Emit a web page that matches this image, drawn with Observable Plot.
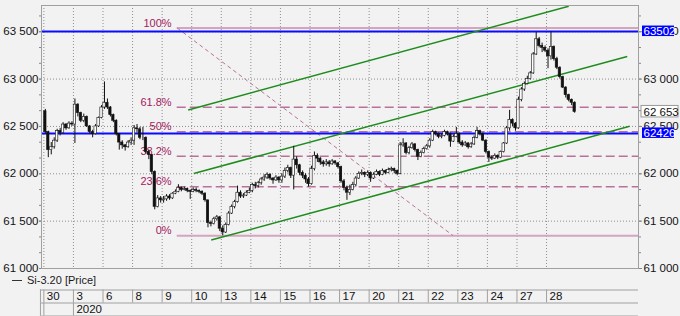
<!DOCTYPE html>
<html><head><meta charset="utf-8">
<script src="https://cdn.jsdelivr.net/npm/d3@7"></script>
<script src="https://cdn.jsdelivr.net/npm/@observablehq/plot@0.6"></script>
<style>
html,body{margin:0;padding:0;background:#f2f2f2;}
body{width:680px;height:316px;overflow:hidden;font-family:"Liberation Sans",Arial,sans-serif;}
svg{display:block;}
#legend{height:17px;line-height:17px;font-size:11px;color:#1a1a1a;position:relative;}
#legend .dash{position:absolute;left:12px;top:8px;width:10px;height:1px;background:#333;}
#legend .txt{position:absolute;left:27px;top:0;}
</style></head><body>
<div id="chart"></div>
<div id="legend"><span class="dash"></span><span class="txt">Si-3.20 [Price]</span></div>
<div id="table"></div>
<script>
// ---- data ----
const dayLabels = ["30","3","6","8","9","10","13","14","15","16","17","20","21","22","23","24","27","28"];
const yearLabel = "2020";
const barsPerDay = 10;
const firstOpen = 62660;
const close = [
 62440,62250,62280,62350,62450,62430,62520,62480,62530,62520,
 62730,62640,62560,62600,62500,62440,62420,62500,62590,62700,
 62750,62700,62620,62560,62420,62330,62300,62280,62330,62350,
 62480,62470,62380,62380,62230,62200,62020,61650,61740,61720,
 61730,61760,61740,61790,61810,61850,61830,61840,61820,61810,
 61830,61820,61810,61790,61720,61480,61470,61520,61540,61420,
 61380,61460,61580,61650,61700,61800,61760,61770,61800,61820,
 61880,61870,61900,61940,61960,61990,61950,61930,61960,61930,
 61970,62030,62060,61980,62150,62090,62010,61980,61940,61890,
 62050,62190,62160,62120,62100,62120,62100,62130,62110,62070,
 61920,61850,61800,61830,61880,61950,62000,62010,61990,62010,
 61950,61990,62020,61990,62030,62010,62040,62050,62030,62000,
 62300,62320,62220,62270,62310,62250,62180,62220,62260,62290,
 62350,62440,62420,62390,62400,62440,62420,62340,62390,62420,
 62330,62300,62320,62280,62310,62380,62450,62420,62350,62230,
 62170,62160,62190,62170,62230,62320,62480,62570,62530,62480,
 62780,62890,62950,63000,63060,63260,63420,63350,63330,63300,
 63240,63340,63210,63120,63020,62910,62830,62780,62750,62653
];
const high = [
 62680,62450,62330,62380,62470,62480,62540,62530,62550,62550,
 62790,62740,62650,62630,62610,62510,62460,62520,62600,62720,
 62970,62790,62710,62630,62570,62420,62350,62310,62350,62380,
 62510,62520,62490,62490,62390,62250,62200,62030,61770,61760,
 61760,61780,61780,61800,61830,61885,61860,61860,61850,61830,
 61850,61850,61830,61820,61800,61720,61500,61540,61560,61550,
 61450,61480,61600,61670,61720,61870,61820,61790,61820,61850,
 61900,61910,61920,61960,61990,62010,62000,61960,61980,61970,
 62000,62060,62090,62070,62290,62180,62100,62030,62000,61960,
 62080,62230,62210,62170,62140,62150,62140,62150,62140,62120,
 62080,61940,61870,61880,61910,61970,62020,62040,62020,62030,
 62020,62010,62040,62030,62050,62040,62060,62070,62060,62040,
 62330,62370,62330,62290,62330,62320,62260,62240,62280,62310,
 62370,62460,62450,62430,62420,62460,62450,62430,62410,62490,
 62430,62350,62340,62330,62330,62400,62490,62460,62430,62360,
 62240,62190,62210,62200,62240,62330,62500,62670,62580,62540,
 62810,62910,62970,63030,63080,63280,63495,63440,63380,63350,
 63320,63502,63350,63230,63130,63030,62920,62840,62790,62760
];
const low = [
 62420,62170,62200,62260,62330,62400,62420,62460,62470,62500,
 62320,62600,62540,62540,62490,62420,62380,62410,62490,62580,
 62680,62680,62600,62540,62400,62250,62260,62240,62270,62300,
 62300,62430,62360,62350,62210,62150,61990,61620,61640,61690,
 61690,61710,61720,61730,61780,61800,61810,61820,61800,61730,
 61800,61800,61790,61770,61700,61430,61440,61460,61500,61390,
 61345,61370,61450,61570,61630,61690,61740,61740,61760,61790,
 61800,61840,61850,61880,61920,61940,61930,61890,61920,61900,
 61900,61950,62010,61950,61830,62050,61980,61950,61900,61860,
 61880,62030,62120,62090,62070,62080,62070,62090,62090,62050,
 61900,61820,61720,61770,61820,61860,61940,61980,61960,61970,
 61910,61940,61980,61970,61980,61990,62000,62020,62000,61980,
 61990,62280,62200,62200,62260,62230,62140,62170,62210,62250,
 62270,62340,62400,62370,62370,62390,62400,62280,62330,62380,
 62310,62280,62290,62260,62270,62300,62370,62400,62340,62210,
 62120,62140,62150,62150,62160,62220,62310,62450,62500,62450,
 62470,62760,62870,62940,62990,63050,63250,63330,63280,63280,
 63110,63200,63190,63100,63000,62900,62800,62760,62720,62640
];
const gridPrices = [61500, 62000, 62500, 63000, 63500];
const axisPrices = [61000, 61500, 62000, 62500, 63000, 63500];
const fibLabels = ["0%", "23.6%", "38.2%", "50%", "61.8%", "100%"];
const fibValues = [61347, 61864, 62184, 62443, 62702, 63539];
const fibStartBar = 45.1;
const fibLabelBar = 43.2;
const fibDiagonal = [{x1: 45.1, y1: 63539, x2: 138.4, y2: 61347}];
const channels = [
 {x1: 48.8, y1: 62674, x2: 177.5, y2: 63770},
 {x1: 50.7, y1: 62004, x2: 197.3, y2: 63238},
 {x1: 56.6, y1: 61300, x2: 198.1, y2: 62501}
];
const levelLines = [63502, 62426];
const lastPrice = 62653;

// ---- build ----
const xMin = -0.8, xMax = 201.1;
const yMin = 61000, yMax = 63777;
const bars = close.map((c, i) => ({i, o: i ? close[i - 1] : firstOpen, h: high[i], l: low[i], c}));
const dayStarts = dayLabels.map((d, k) => k * barsPerDay);
const fib = fibLabels.map((label, k) => ({label, value: fibValues[k], solid: label === "0%" || label === "100%"}));
const minorTicks = d3.range(yMin, yMax, 500 / 3);
const fmt = d => d3.format(",")(d).replace(/,/g, " ");
const dotted = {stroke: "#8e8e8e", strokeDasharray: "1,2", strokeWidth: 1};

const chart = Plot.plot({
  width: 680, height: 272,
  marginTop: 5, marginBottom: 4, marginLeft: 41, marginRight: 42,
  style: {background: "transparent", fontFamily: "Liberation Sans, Arial, sans-serif", fontSize: "11.5px", color: "#111", overflow: "visible"},
  x: {domain: [xMin, xMax], axis: null},
  y: {domain: [yMin, yMax], axis: null},
  marks: [
    Plot.ruleY(gridPrices, dotted),
    Plot.ruleX(dayStarts, dotted),
    Plot.ruleY(fib.filter(d => d.solid), {y: "value", x1: fibStartBar, x2: xMax, stroke: "#d4a4c0", strokeWidth: 2}),
    Plot.ruleY(fib.filter(d => !d.solid), {y: "value", x1: fibStartBar, x2: xMax, stroke: "#b8729a", strokeWidth: 1.5, strokeDasharray: "9,4"}),
    Plot.link(fibDiagonal, {x1: "x1", y1: "y1", x2: "x2", y2: "y2", stroke: "#b8729a", strokeWidth: 1, strokeDasharray: "4,3"}),
    Plot.text(fib, {x: fibLabelBar, y: "value", text: "label", textAnchor: "end", lineAnchor: "bottom", dy: -1.5, fill: "#a3205e", fontSize: 11}),
    Plot.ruleY(levelLines, {stroke: "#0a0aff", strokeWidth: 2}),
    Plot.link(channels, {x1: "x1", y1: "y1", x2: "x2", y2: "y2", stroke: "#1e8c1e", strokeWidth: 1.5}),
    Plot.ruleX(bars, {x: d => d.i + 0.5, y1: "l", y2: "h", stroke: "#111", strokeWidth: 1}),
    Plot.rect(bars, {x1: d => d.i + 0.1, x2: d => d.i + 0.9, y1: "o", y2: "c", fill: d => d.c >= d.o ? "#fff" : "#111", stroke: "#111", strokeWidth: 0.6}),
    Plot.frame({stroke: "#a0a0a0"}),
    Plot.axisY({anchor: "left", ticks: minorTicks, tickSize: 2, tickFormat: () => "", stroke: "#888"}),
    Plot.axisY({anchor: "left", ticks: axisPrices, tickSize: 2, tickPadding: 1, tickFormat: fmt, stroke: "#888", fill: "#111"}),
    Plot.axisY({anchor: "right", ticks: minorTicks, tickSize: 2, tickFormat: () => "", stroke: "#888"}),
    Plot.axisY({anchor: "right", ticks: axisPrices, tickSize: 3, tickPadding: 2, tickFormat: fmt, stroke: "#888", fill: "#111"}),
    Plot.rect([lastPrice], {x1: xMax, x2: xMax, y1: d => d, y2: d => d, insetLeft: 3, insetRight: -40, insetTop: -6, insetBottom: -5.5, fill: "#fff", stroke: "#9a9a9a"}),
    Plot.text([lastPrice], {x: xMax, y: d => d, text: d => fmt(d), dx: 5, textAnchor: "start", fill: "#111"}),
    Plot.rect(levelLines, {x1: xMax, x2: xMax, y1: d => d, y2: d => d, insetLeft: 4, insetRight: -36, insetTop: -5.5, insetBottom: -5, fill: "#0000ff"}),
    Plot.text(levelLines, {x: xMax, y: d => d, text: d => String(d), dx: 5, textAnchor: "start", fill: "#fff"})
  ]
});
document.getElementById("chart").appendChild(chart);

// ---- date table under the chart ----
const lastDay = dayStarts[dayStarts.length - 1];
const table = Plot.plot({
  width: 680, height: 27,
  marginTop: 0, marginBottom: 0, marginLeft: 41, marginRight: 42,
  style: {background: "transparent", fontFamily: "Liberation Sans, Arial, sans-serif", fontSize: "11.5px", color: "#111", overflow: "visible"},
  x: {domain: [xMin, xMax], axis: null},
  y: {domain: [0, 2], range: [0.5, 26.5], axis: null},
  marks: [
    Plot.ruleY([0, 1, 2], {x1: xMin - 0.35, x2: xMax, stroke: "#a0a0a0"}),
    Plot.ruleX([xMin - 0.35, ...dayStarts], {y1: 0, y2: 1, stroke: "#a0a0a0"}),
    Plot.ruleX([xMin - 0.35, 0, dayStarts[1]], {y1: 1, y2: 2, stroke: "#a0a0a0"}),
    Plot.text(dayLabels, {x: (d, k) => dayStarts[k], y: 0.5, text: d => d, dx: 3, textAnchor: "start", fill: "#111"}),
    Plot.text([yearLabel], {x: dayStarts[1], y: 1.5, text: d => d, dx: 3, textAnchor: "start", fill: "#111"})
  ]
});
document.getElementById("table").appendChild(table);
</script>
</body></html>
